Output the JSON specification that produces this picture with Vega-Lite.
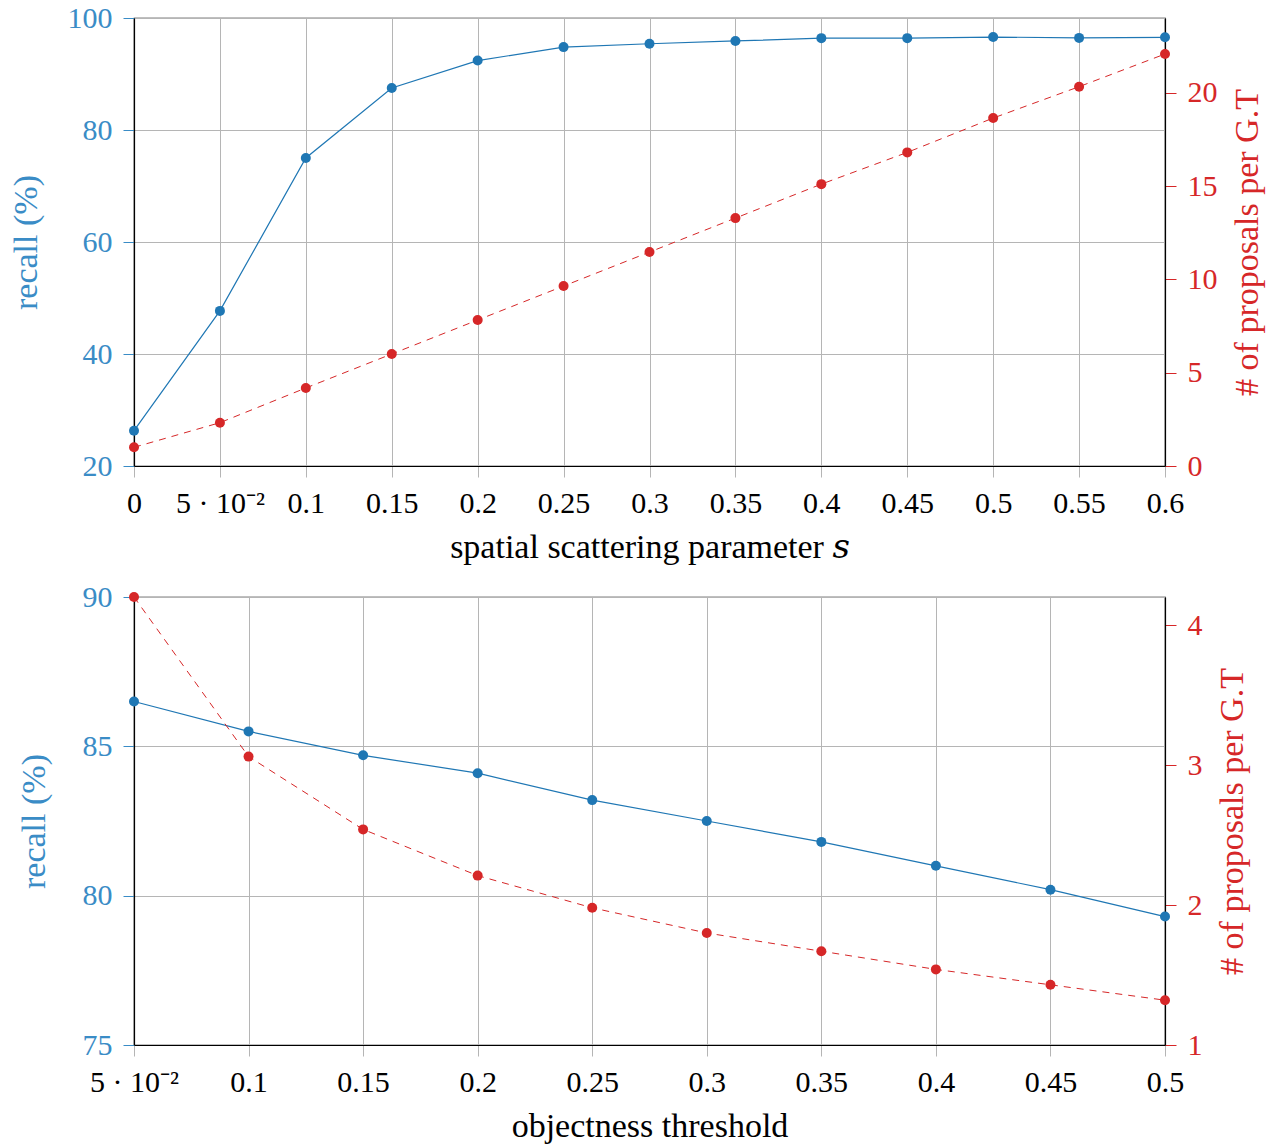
{
  "$schema": "https://vega.github.io/schema/vega-lite/v6.json",
  "padding": {"left": 8, "top": 2, "right": 5, "bottom": 5},
  "spacing": 16,
  "columns": 1,
  "align": "none",
  "config": {
    "font": "Liberation Serif",
    "view": {"stroke": "#000000", "strokeWidth": 1.2},
    "axis": {
      "labelFont": "Liberation Serif",
      "labelFontSize": 30,
      "titleFont": "Liberation Serif, DejaVu Serif",
      "titleFontSize": 34,
      "titleFontWeight": "normal",
      "labelColor": "#000000",
      "titleColor": "#000000",
      "domainColor": "#000000",
      "domainWidth": 1.2,
      "tickSize": 11,
      "tickWidth": 1,
      "gridColor": "#b5b5b5",
      "gridWidth": 1,
      "labelPadding": 11
    }
  },
  "datasets": {
    "top": [
      {"s": 0, "recall": 26.3, "proposals": 1.0},
      {"s": 0.05, "recall": 47.7, "proposals": 2.32},
      {"s": 0.1, "recall": 75.0, "proposals": 4.18},
      {"s": 0.15, "recall": 87.5, "proposals": 6.0},
      {"s": 0.2, "recall": 92.4, "proposals": 7.82},
      {"s": 0.25, "recall": 94.8, "proposals": 9.64},
      {"s": 0.3, "recall": 95.4, "proposals": 11.46},
      {"s": 0.35, "recall": 95.9, "proposals": 13.28},
      {"s": 0.4, "recall": 96.4, "proposals": 15.1},
      {"s": 0.45, "recall": 96.4, "proposals": 16.8},
      {"s": 0.5, "recall": 96.6, "proposals": 18.64},
      {"s": 0.55, "recall": 96.45, "proposals": 20.32},
      {"s": 0.6, "recall": 96.55, "proposals": 22.07}
    ],
    "bottom": [
      {"s": 0.05, "recall": 86.5, "proposals": 4.2},
      {"s": 0.1, "recall": 85.5, "proposals": 3.06},
      {"s": 0.15, "recall": 84.7, "proposals": 2.54},
      {"s": 0.2, "recall": 84.1, "proposals": 2.21},
      {"s": 0.25, "recall": 83.2, "proposals": 1.98},
      {"s": 0.3, "recall": 82.5, "proposals": 1.8},
      {"s": 0.35, "recall": 81.8, "proposals": 1.67},
      {"s": 0.4, "recall": 81.0, "proposals": 1.54},
      {"s": 0.45, "recall": 80.2, "proposals": 1.43},
      {"s": 0.5, "recall": 79.3, "proposals": 1.32}
    ]
  },
  "concat": [
    {
      "width": 1031,
      "height": 448,
      "data": {"name": "top"},
      "layer": [
        {
          "mark": {"type": "line", "color": "#1f77b4", "strokeWidth": 1.2, "point": {"filled": true, "size": 100, "color": "#1f77b4", "opacity": 1}},
          "encoding": {
            "x": {
              "field": "s", "type": "quantitative",
              "scale": {"domain": [0, 0.6], "nice": false, "zero": false},
              "axis": {
                "values": [0, 0.05, 0.1, 0.15, 0.2, 0.25, 0.3, 0.35, 0.4, 0.45, 0.5, 0.55, 0.6],
                "labelExpr": "datum.value == 0.05 ? '5 · 10⁻²' : format(datum.value, '~g')",
                "title": "spatial scattering parameter 𝑠",
                "grid": true, "tickColor": "#b5b5b5", "labelFlush": false, "titlePadding": 12
              }
            },
            "y": {
              "field": "recall", "type": "quantitative",
              "scale": {"domain": [20, 100], "nice": false, "zero": false},
              "axis": {
                "values": [20, 40, 60, 80, 100], "title": "recall (%)", "grid": true,
                "labelColor": "#3a8cc6", "titleColor": "#3a8cc6", "tickColor": "#3a8cc6",
                "titlePadding": 24
              }
            }
          }
        },
        {
          "mark": {"type": "line", "color": "#d62728", "strokeWidth": 1, "strokeDash": [7, 6], "point": {"filled": true, "size": 100, "color": "#d62728", "opacity": 1}},
          "encoding": {
            "x": {"field": "s", "type": "quantitative"},
            "y": {
              "field": "proposals", "type": "quantitative",
              "scale": {"domain": [0, 24], "nice": false, "zero": false},
              "axis": {
                "orient": "right", "values": [0, 5, 10, 15, 20], "grid": false,
                "title": "# of proposals per G.T", "titleAngle": 270, "titleBaseline": "top",
                "labelColor": "#d62728", "titleColor": "#d62728", "tickColor": "#d62728",
                "titlePadding": 13
              }
            }
          }
        }
      ],
      "resolve": {"scale": {"y": "independent"}}
    },
    {
      "width": 1031,
      "height": 448,
      "data": {"name": "bottom"},
      "layer": [
        {
          "mark": {"type": "line", "color": "#1f77b4", "strokeWidth": 1.2, "point": {"filled": true, "size": 100, "color": "#1f77b4", "opacity": 1}},
          "encoding": {
            "x": {
              "field": "s", "type": "quantitative",
              "scale": {"domain": [0.05, 0.5], "nice": false, "zero": false},
              "axis": {
                "values": [0.05, 0.1, 0.15, 0.2, 0.25, 0.3, 0.35, 0.4, 0.45, 0.5],
                "labelExpr": "datum.value == 0.05 ? '5 · 10⁻²' : format(datum.value, '~g')",
                "title": "objectness threshold",
                "grid": true, "tickColor": "#b5b5b5", "labelFlush": false, "titlePadding": 12
              }
            },
            "y": {
              "field": "recall", "type": "quantitative",
              "scale": {"domain": [75, 90], "nice": false, "zero": false},
              "axis": {
                "values": [75, 80, 85, 90], "title": "recall (%)", "grid": true,
                "labelColor": "#3a8cc6", "titleColor": "#3a8cc6", "tickColor": "#3a8cc6",
                "titlePadding": 31
              }
            }
          }
        },
        {
          "mark": {"type": "line", "color": "#d62728", "strokeWidth": 1, "strokeDash": [7, 6], "point": {"filled": true, "size": 100, "color": "#d62728", "opacity": 1}},
          "encoding": {
            "x": {"field": "s", "type": "quantitative"},
            "y": {
              "field": "proposals", "type": "quantitative",
              "scale": {"domain": [1, 4.2], "nice": false, "zero": false},
              "axis": {
                "orient": "right", "values": [1, 2, 3, 4], "grid": false,
                "title": "# of proposals per G.T", "titleAngle": 270, "titleBaseline": "top",
                "labelColor": "#d62728", "titleColor": "#d62728", "tickColor": "#d62728",
                "titlePadding": 13
              }
            }
          }
        }
      ],
      "resolve": {"scale": {"y": "independent"}}
    }
  ]
}
